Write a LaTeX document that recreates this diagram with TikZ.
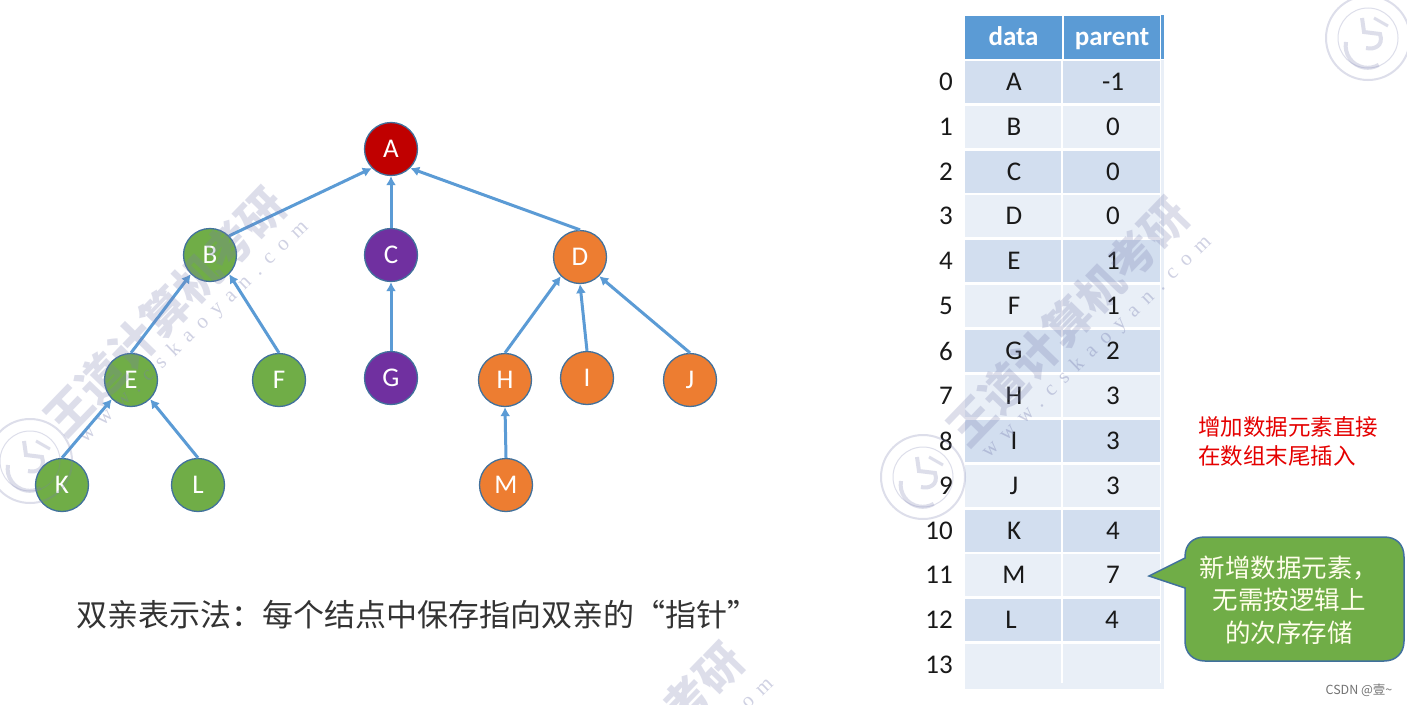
\documentclass[tikz,border=0pt]{standalone}
\usepackage{fontspec}
\setmainfont{Carlito}
\newfontfamily\cjk{Noto Sans CJK SC}
\newfontfamily\wmfont[LetterSpace=45]{Liberation Serif}
\usetikzlibrary{arrows.meta}
\definecolor{hdr}{RGB}{91,155,213}
\definecolor{rowa}{RGB}{210,222,239}
\definecolor{rowb}{RGB}{233,239,247}
\definecolor{nred}{RGB}{192,0,0}
\definecolor{ngreen}{RGB}{112,173,71}
\definecolor{npurple}{RGB}{112,48,160}
\definecolor{norange}{RGB}{237,125,49}
\definecolor{nedge}{RGB}{65,113,156}
\definecolor{wm}{RGB}{120,125,175}
\tikzset{
  x=1pt,y=-1pt,
  tnode/.style={circle,draw=nedge,line width=1.3pt,minimum size=53pt,inner sep=0pt,text=white,font=\fontsize{27}{27}\selectfont},
  link/.style={draw=hdr,line width=3pt,-{Latex[length=9pt,width=10pt]}},
  cell/.style={text height=17pt,text depth=0pt,inner sep=0pt,font=\fontsize{27}{27}\selectfont,text=black!90},
  hcell/.style={minimum width=96.5pt,minimum height=43pt,text height=17pt,text depth=0pt,inner sep=0pt,fill=hdr,text=white,font=\fontsize{27}{27}\selectfont\bfseries},
  idx/.style={inner sep=0pt,font=\fontsize{27}{27}\selectfont,text=black!90},
  wmtext/.style={text=wm,opacity=0.25,inner sep=0pt,font=\cjk\bfseries\fontsize{46}{46}\selectfont,rotate=46},
  wmurl/.style={text=wm,opacity=0.35,inner sep=0pt,font=\wmfont\fontsize{21}{21}\selectfont,rotate=44},
  wmlogo/.style={draw=wm,opacity=0.25,line width=2pt},
  note/.style={inner sep=0pt,align=center,font=\cjk}
}
\begin{document}
\begin{tikzpicture}
\useasboundingbox (0,0) rectangle (1407,704);
\clip (0,0) rectangle (1407,704);
\fill[white] (0,0) rectangle (1407,704);
% table
\fill[rowb] (965,683) rectangle (1164,689);
\fill[rowb] (1161,60) rectangle (1164,689);
\fill[hdr] (1161,15) rectangle (1164,59);
\node[hcell] (hd) at (1013.5,37) {data};
\node[hcell] (hp) at (1112,37) {parent};
\foreach \i/\y/\dat/\pr/\dx/\px/\c/\nx in {
 0/82/A/-1/1014/1113/rowa/946,1/127/B/0/1014/1113/rowb/946,2/172/C/0/1014/1113/rowa/946,
 3/216/D/0/1014/1113/rowb/946,4/261/E/1/1014/1113/rowa/946,5/306/F/1/1014/1113/rowb/946,
 6/351/G/2/1014/1113/rowa/946,7/396/H/3/1014/1113/rowb/946,8/441/I/3/1014/1113/rowa/946,
 9/486/J/3/1014/1113/rowb/946,10/531/K/4/1014/1113/rowa/939,11/575/M/7/1014/1113/rowb/939,
 12/620/L/4/1011/1112/rowa/939}{
  \fill[\c] (965,\y-21) rectangle (1061,\y+21);
  \fill[\c] (1063,\y-21) rectangle (1160,\y+21);
  \node[cell] (d\i) at (\dx,\y) {\dat};
  \node[cell] (p\i) at (\px,\y) {\pr};
  \node[idx] (n\i) at (\nx,\y) {\i};
}
\fill[rowb] (965,644) rectangle (1061,683);
\fill[rowb] (1063,644) rectangle (1160,683);
\node[idx] (n13) at (939,665) {13};
% tree
\node[tnode,fill=nred] (A) at (391,149) {A};
\node[tnode,fill=ngreen] (B) at (210,255) {B};
\node[tnode,fill=npurple] (C) at (391,255) {C};
\node[tnode,fill=norange] (D) at (580,257) {D};
\node[tnode,fill=ngreen] (E) at (131,380) {E};
\node[tnode,fill=ngreen] (F) at (279,380) {F};
\node[tnode,fill=npurple] (G) at (391,378) {G};
\node[tnode,fill=norange] (H) at (505,380) {H};
\node[tnode,fill=norange] (I) at (587,378) {I};
\node[tnode,fill=norange] (J) at (690,380) {J};
\node[tnode,fill=ngreen] (K) at (62,485) {K};
\node[tnode,fill=ngreen] (L) at (198,485) {L};
\node[tnode,fill=norange] (M) at (506,485) {M};
\draw[link] (B.45) -- (A.225);
\draw[link] (C.north) -- (A.south);
\draw[link] (D.north) -- (A.-45);
\draw[link] (E.north) -- (B.225);
\draw[link] (F.north) -- (B.-45);
\draw[link] (G.north) -- (C.south);
\draw[link] (H.north) -- (D.225);
\draw[link] (I.north) -- (D.south);
\draw[link] (J.north) -- (D.-45);
\draw[link] (K.north) -- (E.225);
\draw[link] (L.north) -- (E.-45);
\draw[link] (M.north) -- (H.south);
% caption
\node[note,text=black!80,font=\cjk\fontsize{31}{31}\selectfont] (cap) at (417,615) {双亲表示法：每个结点中保存指向双亲的“指针”};
% red note
\node[note,align=left,text=red!90!black,font=\cjk\fontsize{22.5}{29}\selectfont] (rn) at (1288,441) {增加数据元素直接\\在数组末尾插入};
% callout
\draw[draw=nedge,line width=1.5pt,fill=ngreen]
  (1149,576) -- (1185,558) -- (1185,557)
  .. controls (1185,544) and (1193,537) .. (1205,537) -- (1384,537)
  .. controls (1396,537) and (1404,544) .. (1404,557) -- (1404,641)
  .. controls (1404,653) and (1396,661) .. (1384,661) -- (1205,661)
  .. controls (1193,661) and (1185,653) .. (1185,641) -- (1185,588) -- cycle;
\node[note,text=white!92!yellow,font=\cjk\fontsize{25.5}{32.5}\selectfont] (cn) at (1289,600) {新增数据元素，\\无需按逻辑上\\的次序存储};
% csdn
\node[note,text=black!55,font=\cjk\fontsize{12.5}{12.5}\selectfont] (cs) at (1359,690) {CSDN @壹\textasciitilde};
% watermarks
\node[wmtext] (w1) at (165,312) {王道计算机考研};
\node[wmtext] (w2) at (1068,322) {王道计算机考研};
\node[wmtext] (w3) at (623,767) {王道计算机考研};
\node[wmurl] (u1) at (194,332) {www.cskaoyan.com};
\node[wmurl] (u2) at (1097,347) {www.cskaoyan.com};
\node[wmurl] (u3) at (659,789) {www.cskaoyan.com};
\foreach \x/\y in {30/461,923/477,1368/38}{
  \draw[wmlogo] (\x,\y) circle[radius=42pt];
  \draw[wmlogo,line width=1pt] (\x,\y) circle[radius=30pt];
  \draw[wmlogo,line width=4pt] (\x-22,\y+4) arc[start angle=170,end angle=300,radius=22pt];
  \draw[wmlogo,line width=4pt] (\x-6,\y-20) -- (\x-4,\y-6) -- (\x+12,\y-4) .. controls (\x+16,\y+8) and (\x+6,\y+12) .. (\x-2,\y+10);
  \draw[wmlogo,line width=3pt] (\x+6,\y-20) -- (\x+20,\y-12);
}
\end{tikzpicture}
\end{document}
